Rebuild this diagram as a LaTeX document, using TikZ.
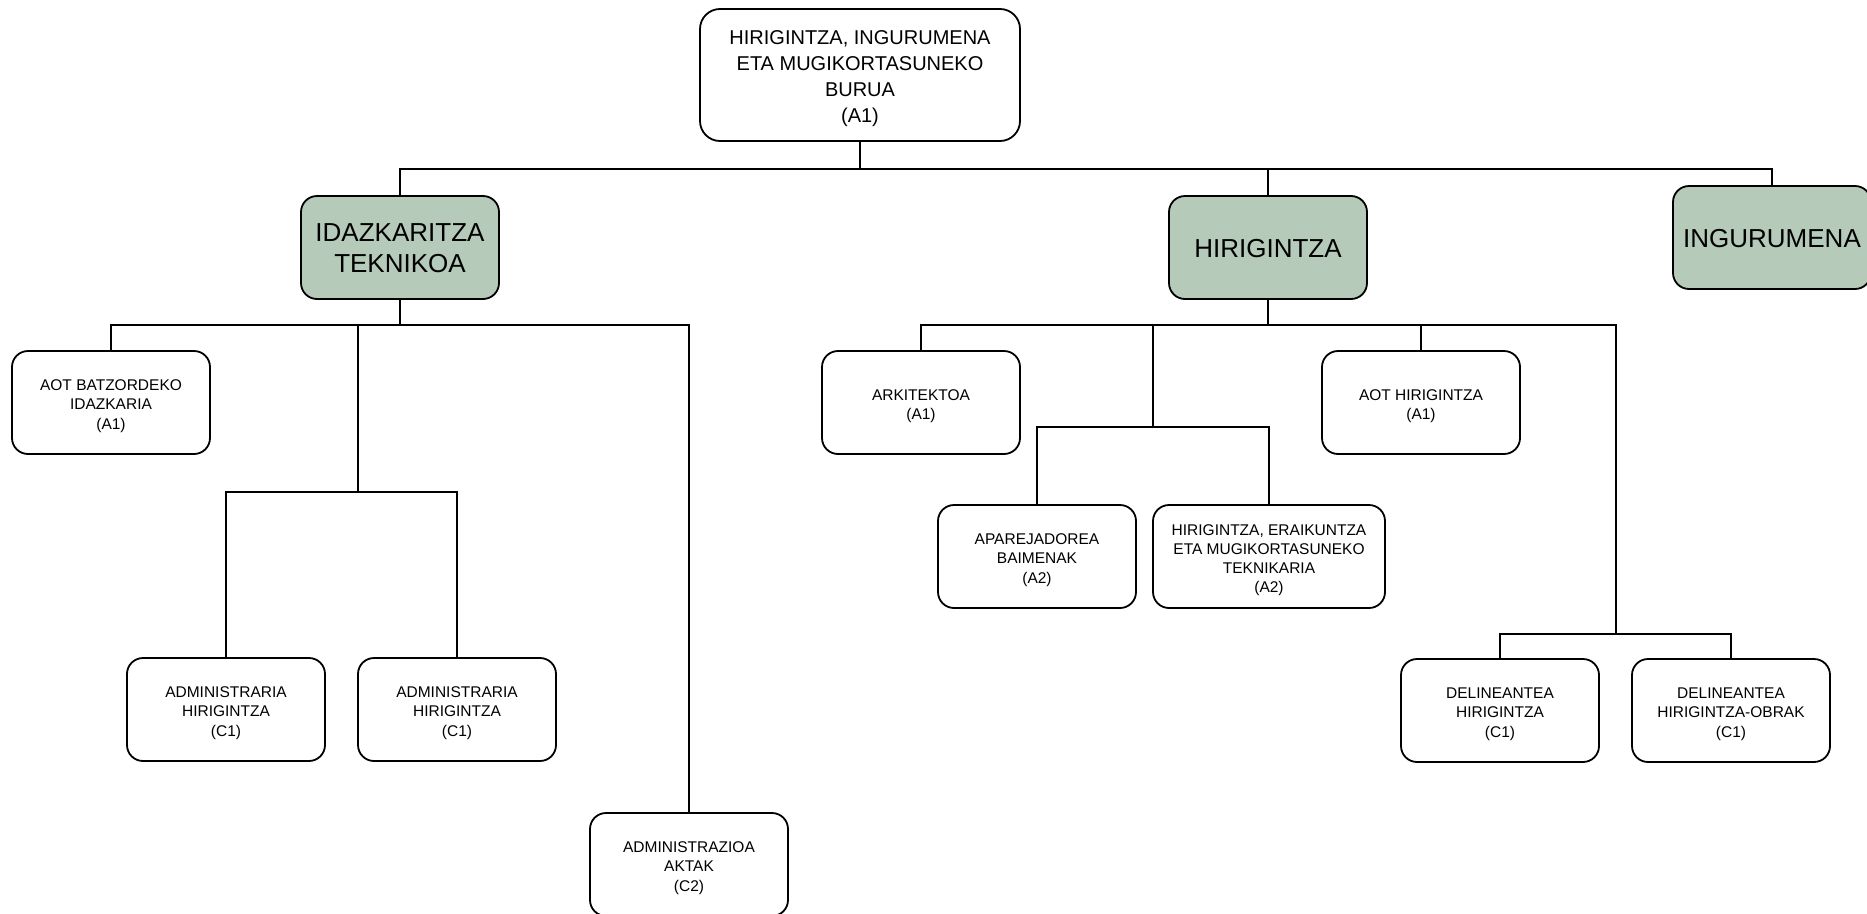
\documentclass[tikz,border=0pt]{standalone}
\usepackage{fontspec}
\setmainfont{Liberation Sans}
\definecolor{sage}{RGB}{181,202,184}
\newcommand{\lbl}[1]{\raisebox{-3.5pt}[\height][\depth]{\begin{tabular}{@{}c@{}}#1\end{tabular}}}
\begin{document}
\begin{tikzpicture}[x=1pt,y=-1pt,
  box/.style={draw=black,line width=1.8pt,rounded corners=16pt,align=center,inner sep=0pt,fill=white},
  topbox/.style={box,minimum width=320pt,minimum height=132pt,font=\fontsize{20}{25.8}\selectfont,rounded corners=20pt},
  greenbox/.style={box,fill=sage,minimum width=198pt,minimum height=103pt,font=\fontsize{26}{31}\selectfont},
  smallbox/.style={box,minimum width=198pt,minimum height=103pt,font=\fontsize{15.5}{19.2}\selectfont},
  conn/.style={line width=1.8pt}]
\useasboundingbox (0,0) rectangle (1867,913);

% nodes
\node[topbox] (top) at (860,75) {\lbl{HIRIGINTZA, INGURUMENA\\ETA MUGIKORTASUNEKO\\BURUA\\(A1)}};
\node[greenbox] (idaz) at (400,247.5) {\lbl{IDAZKARITZA\\TEKNIKOA}};
\node[greenbox] (hiri) at (1268,247.5) {\lbl{HIRIGINTZA}};
\node[greenbox] (ingu) at (1772,237.5) {\lbl{INGURUMENA}};

\node[smallbox] (aotb) at (111,402.5) {\lbl{AOT BATZORDEKO\\IDAZKARIA\\(A1)}};
\node[smallbox] (adm1) at (226,709.5) {\lbl{ADMINISTRARIA\\HIRIGINTZA\\(C1)}};
\node[smallbox] (adm2) at (457,709.5) {\lbl{ADMINISTRARIA\\HIRIGINTZA\\(C1)}};
\node[smallbox] (akt) at (689,864.5) {\lbl{ADMINISTRAZIOA\\AKTAK\\(C2)}};

\node[smallbox] (arki) at (921,402.5) {\lbl{ARKITEKTOA\\(A1)}};
\node[smallbox] (apa) at (1037,556.5) {\lbl{APAREJADOREA\\BAIMENAK\\(A2)}};
\node[smallbox,minimum width=232pt] (hec) at (1269,556.5) {\lbl{HIRIGINTZA, ERAIKUNTZA\\ETA MUGIKORTASUNEKO\\TEKNIKARIA\\(A2)}};
\node[smallbox] (aoth) at (1421,402.5) {\lbl{AOT HIRIGINTZA\\(A1)}};
\node[smallbox] (del1) at (1500,710.5) {\lbl{DELINEANTEA\\HIRIGINTZA\\(C1)}};
\node[smallbox] (del2) at (1731,710.5) {\lbl{DELINEANTEA\\HIRIGINTZA-OBRAK\\(C1)}};

% junctions
\coordinate (j0) at (860,169);
\coordinate (j1) at (400,325);
\coordinate (j2) at (358,325);
\coordinate (j3) at (358,492);
\coordinate (j4) at (1268,325);
\coordinate (j5) at (1616,325);
\coordinate (j6) at (1616,634);
\coordinate (j7) at (1153,325);
\coordinate (j8) at (1153,427);

% connectors
\draw[conn] (top.south) -- (j0);
\draw[conn] (idaz.north) |- (j0) -| (ingu.north);
\draw[conn] (j0) -| (hiri.north);

\draw[conn] (idaz.south) -- (j1);
\draw[conn] (aotb.north) |- (j1) -| (akt.north);
\draw[conn] (j2) -- (j3);
\draw[conn] (adm1.north) |- (j3) -| (adm2.north);

\draw[conn] (hiri.south) -- (j4);
\draw[conn] (arki.north) |- (j4) -| (aoth.north);
\draw[conn] (aoth.north) |- (j5) -- (j6);
\draw[conn] (del1.north) |- (j6) -| (del2.north);
\draw[conn] (j7) -- (j8);
\draw[conn] (apa.north) |- (j8) -| (hec.north);
\end{tikzpicture}
\end{document}
